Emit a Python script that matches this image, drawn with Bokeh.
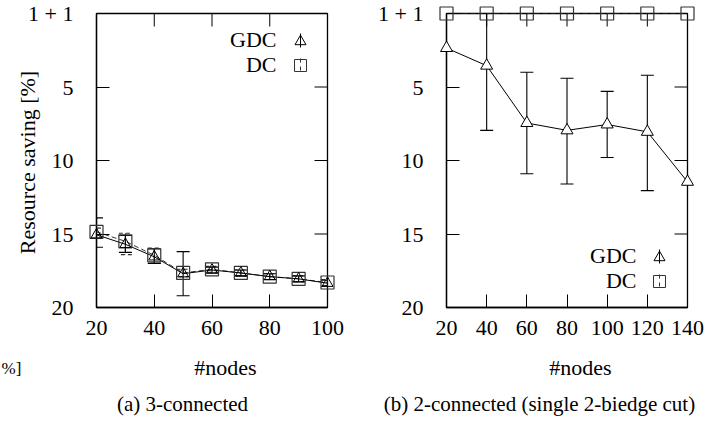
import math
from bokeh.plotting import figure
from bokeh.models import Range1d, FixedTicker, Whisker, TeeHead, ColumnDataSource
from bokeh.layouts import row
from bokeh.embed import file_html
from bokeh.resources import INLINE
from bokeh.core.properties import value

# ---------------- data ----------------
y_ticks = [0, 5, 10, 15, 20]
y_tick_labels = ["1 + 1", "5", "10", "15", "20"]

# (a) 3-connected
a_nodes = [20, 30, 40, 50, 60, 70, 80, 90, 100]
a_gdc = [15.05, 15.7, 16.55, 17.7, 17.45, 17.65, 17.9, 18.05, 18.35]
a_gdc_lo = [13.9, 15.1, 16.0, 16.2, 17.25, 17.45, 17.7, 17.85, 18.15]
a_gdc_hi = [15.9, 16.25, 17.0, 19.2, 17.65, 17.85, 18.1, 18.25, 18.55]
a_dc = [14.85, 15.5, 16.45, 17.65, 17.4, 17.65, 17.9, 18.05, 18.3]
a_dc_lo = [14.6, 14.95, 15.95, 17.4, 17.2, 17.45, 17.7, 17.85, 18.1]
a_dc_hi = [15.2, 16.4, 17.0, 17.9, 17.6, 17.85, 18.1, 18.25, 18.5]
a_xticks = [20, 40, 60, 80, 100]

# (b) 2-connected (single 2-biedge cut)
b_nodes = [20, 40, 60, 80, 100, 120, 140]
b_gdc = [2.35, 3.55, 7.45, 7.95, 7.55, 8.05, 11.45]
b_dc = [0, 0, 0, 0, 0, 0, 0]
b_err_nodes = [40, 60, 80, 100, 120]
b_gdc_lo = [0.0, 4.0, 4.4, 5.3, 4.2]
b_gdc_hi = [7.95, 10.9, 11.6, 9.8, 12.05]
b_xticks = [20, 40, 60, 80, 100, 120, 140]

# ---------------- layout ----------------
FONT = "Liberation Serif"
W1, W2, H = 360, 362, 420
F_TOP, F_BOT = 13, 307          # frame top/bottom in page pixels
F1_L, F1_R = 96, 327            # left panel frame
F2_L, F2_R = 446, 687           # right panel frame
TICK_LEN = 13
TICK_FS = "22px"
LABEL_FS = "22px"
CAP_FS = "21px"
GDC_COLOR = "black"
DC_COLOR = "#333333"


def px2data(px, py, fl, fr, xr):
    x = xr[0] + (px - fl) / (fr - fl) * (xr[1] - xr[0])
    y = (py - F_TOP) / (F_BOT - F_TOP) * 20
    return x, y


def make_fig(width, fl, fr, xticks, page_left):
    xr = (xticks[0], xticks[-1])
    p = figure(width=width, height=H, output_backend="svg", toolbar_location=None,
               x_range=Range1d(*xr), y_range=Range1d(20, 0),
               min_border_left=fl - page_left,
               min_border_right=width - (fr - page_left),
               min_border_top=F_TOP,
               min_border_bottom=H - F_BOT)
    p.xgrid.visible = False
    p.ygrid.visible = False
    p.outline_line_color = "black"
    p.outline_line_width = 1.3
    p.background_fill_color = "white"
    p.border_fill_color = "white"
    p.xaxis.ticker = FixedTicker(ticks=xticks)
    p.yaxis.ticker = FixedTicker(ticks=y_ticks)
    p.yaxis.major_label_overrides = {t: s for t, s in zip(y_ticks, y_tick_labels)}
    for ax in p.xaxis + p.yaxis:
        ax.major_tick_in = TICK_LEN
        ax.major_tick_out = 0
        ax.minor_tick_line_color = None
        ax.axis_line_color = "black"
        ax.axis_line_width = 1.3
        ax.major_tick_line_color = "black"
        ax.major_label_text_font = FONT
        ax.major_label_text_font_size = TICK_FS
        ax.major_label_text_color = "black"
    p.xaxis.major_label_standoff = 13
    p.yaxis.major_label_standoff = 23
    # mirrored ticks on top and right edges, from the tick lists
    _, ty = px2data(fl, F_TOP + TICK_LEN, fl, fr, xr)
    p.segment(x0=xticks, y0=[0] * len(xticks), x1=xticks, y1=[ty] * len(xticks),
              line_color="black", line_width=1)
    tx, _ = px2data(fr - TICK_LEN, F_TOP, fl, fr, xr)
    p.segment(x0=[xr[1]] * len(y_ticks), y0=y_ticks, x1=[tx] * len(y_ticks), y1=y_ticks,
              line_color="black", line_width=1)
    return p, xr


def add_text(p, px, py, fl, fr, xr, text, size, align="center", angle=0.0):
    x, y = px2data(px, py, fl, fr, xr)
    r = p.text(x=[x], y=[y], text=[text], text_font=value(FONT), text_font_size=size,
               text_align=align, text_baseline="middle", angle=angle, text_color="black")
    r.level = "overlay"


def add_legend(p, fl, fr, xr, text_px, mark_px, gdc_py, dc_py):
    add_text(p, text_px, gdc_py, fl, fr, xr, "GDC", LABEL_FS, align="right")
    add_text(p, text_px, dc_py, fl, fr, xr, "DC", LABEL_FS, align="right")
    gx, gy = px2data(mark_px, gdc_py + 2, fl, fr, xr)
    _, gy0 = px2data(mark_px, gdc_py - 6, fl, fr, xr)
    _, gy1 = px2data(mark_px, gdc_py + 8, fl, fr, xr)
    p.segment(x0=[gx], y0=[gy0], x1=[gx], y1=[gy1], line_color=GDC_COLOR, line_width=1)
    p.scatter(x=[gx], y=[gy], marker="triangle", size=11, fill_alpha=0,
              line_color=GDC_COLOR, line_width=1)
    dx, dy = px2data(mark_px, dc_py + 1, fl, fr, xr)
    _, dy0 = px2data(mark_px, dc_py - 6, fl, fr, xr)
    _, dy1 = px2data(mark_px, dc_py + 7, fl, fr, xr)
    p.segment(x0=[dx], y0=[dy0], x1=[dx], y1=[dy1], line_color=DC_COLOR, line_width=1,
              line_dash="4 4")
    p.scatter(x=[dx], y=[dy], marker="square", size=12, fill_alpha=0,
              line_color=DC_COLOR, line_width=1)


def whiskers(p, xs, lo, hi, color, dash):
    src = ColumnDataSource(dict(x=xs, lo=lo, hi=hi))
    w = Whisker(base="x", lower="lo", upper="hi", source=src, dimension="height",
                line_color=color, line_width=1.1, line_dash=dash,
                upper_head=TeeHead(size=13, line_color=color, line_width=1.1, line_dash=dash),
                lower_head=TeeHead(size=13, line_color=color, line_width=1.1, line_dash=dash))
    p.add_layout(w)


# ---------------- panel (a) ----------------
p1, xr1 = make_fig(W1, F1_L, F1_R, a_xticks, 0)
whiskers(p1, a_nodes, a_dc_lo, a_dc_hi, DC_COLOR, "4 3")
whiskers(p1, a_nodes, a_gdc_lo, a_gdc_hi, GDC_COLOR, "solid")
p1.line(a_nodes, a_dc, line_color=DC_COLOR, line_width=1, line_dash="5 3")
p1.line(a_nodes, a_gdc, line_color=GDC_COLOR, line_width=1)
rs = p1.scatter(a_nodes, a_dc, marker="square", size=13, fill_alpha=0,
                line_color=DC_COLOR, line_width=1.2)
rt = p1.scatter(a_nodes, a_gdc, marker="triangle", size=11, fill_alpha=0,
                line_color=GDC_COLOR, line_width=1)
rs.level = "overlay"
rt.level = "overlay"
add_legend(p1, F1_L, F1_R, xr1, 276, 300, 39, 64)
add_text(p1, 27, 162, F1_L, F1_R, xr1, "Resource saving [%]", LABEL_FS, angle=math.pi / 2)
add_text(p1, 225, 367, F1_L, F1_R, xr1, "#nodes", LABEL_FS)
add_text(p1, 182, 403, F1_L, F1_R, xr1, "(a) 3-connected", CAP_FS)
add_text(p1, 1, 368, F1_L, F1_R, xr1, "%]", "17px", align="left")

# ---------------- panel (b) ----------------
p2, xr2 = make_fig(W2, F2_L, F2_R, b_xticks, W1)
whiskers(p2, b_err_nodes, b_gdc_lo, b_gdc_hi, GDC_COLOR, "solid")
p2.line(b_nodes, b_dc, line_color=DC_COLOR, line_width=1, line_dash="5 3")
p2.line(b_nodes, b_gdc, line_color=GDC_COLOR, line_width=1)
rs2 = p2.scatter(b_nodes, b_dc, marker="square", size=13, fill_alpha=0,
                 line_color=DC_COLOR, line_width=1.2)
rt2 = p2.scatter(b_nodes, b_gdc, marker="triangle", size=12, fill_color="white",
                 line_color=GDC_COLOR, line_width=1)
rs2.level = "overlay"
rt2.level = "overlay"
add_legend(p2, F2_L - W1, F2_R - W1, xr2, 636 - W1, 659 - W1, 255, 280)
add_text(p2, 580 - W1, 367, F2_L - W1, F2_R - W1, xr2, "#nodes", LABEL_FS)
add_text(p2, 539 - W1, 403, F2_L - W1, F2_R - W1, xr2,
         "(b) 2-connected (single 2-biedge cut)", CAP_FS)

layout = row(p1, p2)
open("out.html", "w").write(file_html(layout, INLINE))
